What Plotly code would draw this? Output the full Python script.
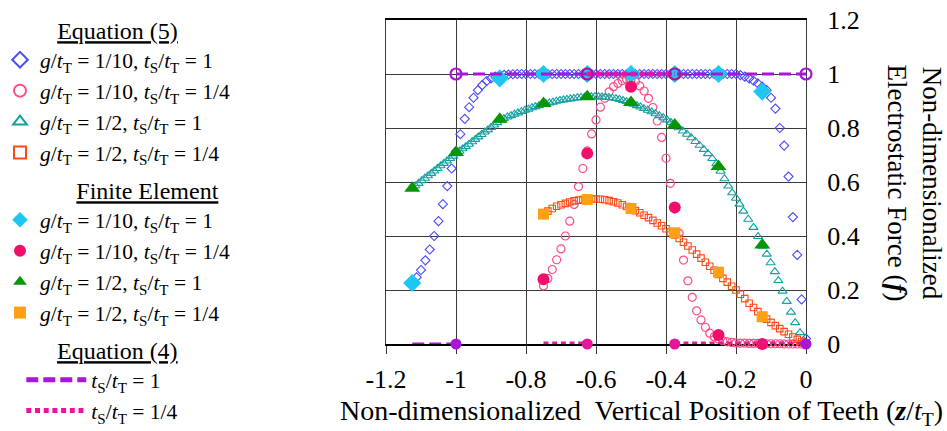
import plotly.graph_objects as go

FONT = "Liberation Serif"

# ---------------- data ----------------
# Equation (5): g/tT = 1/10, tS/tT = 1  (open diamonds)
Z_EQ5_G10_S1 = [-1.125, -1.1125, -1.1, -1.0875, -1.075, -1.0625, -1.05, -1.0375, -1.025, -1.0125,
                -1.0, -0.9875, -0.975, -0.9625, -0.95, -0.9375, -0.925, -0.9125, -0.9, -0.8875,
                -0.875, -0.8625, -0.85, -0.8375, -0.825, -0.8125, -0.8, -0.7875, -0.775, -0.7625,
                -0.75, -0.7375, -0.725, -0.7125, -0.7, -0.6875, -0.675, -0.6625, -0.65, -0.6375,
                -0.625, -0.6125, -0.6, -0.5875, -0.575, -0.5625, -0.55, -0.5375, -0.525, -0.5125,
                -0.5, -0.4875, -0.475, -0.4625, -0.45, -0.4375, -0.425, -0.4125, -0.4, -0.3875,
                -0.375, -0.3625, -0.35, -0.3375, -0.325, -0.3125, -0.3, -0.2875, -0.275, -0.2625,
                -0.25, -0.2375, -0.225, -0.2125, -0.2, -0.1875, -0.175, -0.1625, -0.15, -0.1375,
                -0.125, -0.1125, -0.1, -0.0875, -0.075, -0.0625, -0.05, -0.0375, -0.025, -0.0125,
                0.0]
F_EQ5_G10_S1 = [0.226, 0.247, 0.274, 0.310, 0.350, 0.400, 0.455, 0.518, 0.585, 0.650,
                0.714, 0.777, 0.834, 0.877, 0.912, 0.940, 0.959, 0.974, 0.984, 0.990,
                0.994, 0.997, 0.998, 0.999, 1.0, 1.0, 1.0, 1.0, 1.0, 1.0,
                1.0, 1.0, 1.0, 1.0, 1.0, 1.0, 1.0, 1.0, 1.0, 1.0,
                1.0, 1.0, 1.0, 1.0, 1.0, 1.0, 1.0, 1.0, 1.0, 1.0,
                1.0, 1.0, 1.0, 1.0, 1.0, 1.0, 1.0, 1.0, 1.0, 1.0,
                1.0, 1.0, 1.0, 1.0, 1.0, 1.0, 1.0, 1.0, 1.0, 1.0,
                1.0, 1.0, 1.0, 1.0, 1.0, 0.996, 0.990, 0.984, 0.975, 0.965,
                0.953, 0.940, 0.912, 0.872, 0.800, 0.735, 0.620, 0.470, 0.330, 0.165,
                0.020]

# Equation (5): g/tT = 1/10, tS/tT = 1/4  (open circles)
Z_EQ5_G10_S14 = [-0.75, -0.7375, -0.725, -0.7125, -0.7, -0.6875, -0.675, -0.6625, -0.65, -0.6375,
                 -0.625, -0.6125, -0.6, -0.5875, -0.575, -0.5625, -0.55, -0.5375, -0.525, -0.5125,
                 -0.5, -0.4875, -0.475, -0.4625, -0.45, -0.4375, -0.425, -0.4125, -0.4, -0.3875,
                 -0.375, -0.3625, -0.35, -0.3375, -0.325, -0.3125, -0.3, -0.2875, -0.275, -0.2625,
                 -0.25, -0.2375, -0.225, -0.2125, -0.2, -0.1875, -0.175, -0.1625, -0.15, -0.1375,
                 -0.125, -0.1125, -0.1, -0.0875, -0.075, -0.0625, -0.05, -0.0375, -0.025, -0.0125,
                 0.0]
F_EQ5_G10_S14 = [0.215, 0.243, 0.276, 0.312, 0.352, 0.400, 0.455, 0.517, 0.583, 0.650,
                 0.715, 0.778, 0.830, 0.877, 0.910, 0.934, 0.953, 0.965, 0.975, 0.980,
                 0.979, 0.972, 0.956, 0.937, 0.910, 0.876, 0.826, 0.765, 0.688, 0.595,
                 0.500, 0.410, 0.311, 0.234, 0.173, 0.123, 0.089, 0.062, 0.040, 0.027,
                 0.018, 0.012, 0.008, 0.006, 0.004, 0.003, 0.003, 0.002, 0.002, 0.002,
                 0.001, 0.001, 0.001, 0.001, 0.001, 0.0, 0.0, 0.0, 0.0, 0.0,
                 0.0]

# Equation (5): g/tT = 1/2, tS/tT = 1  (open triangles)
Z_EQ5_G2_S1 = [-1.125, -1.116, -1.107, -1.098, -1.089, -1.080, -1.071, -1.062, -1.053, -1.044,
               -1.035, -1.026, -1.017, -1.008, -0.999, -0.990, -0.981, -0.972, -0.963, -0.954,
               -0.945, -0.936, -0.927, -0.918, -0.909, -0.900, -0.891, -0.882, -0.873,
               -0.863, -0.853, -0.843, -0.833, -0.823, -0.813, -0.803, -0.793, -0.783, -0.773,
               -0.763, -0.753, -0.743, -0.733, -0.723, -0.713, -0.703, -0.693, -0.683, -0.673,
               -0.663, -0.653, -0.643, -0.633, -0.623, -0.613, -0.603, -0.593, -0.583, -0.573,
               -0.563, -0.553, -0.543, -0.533, -0.523, -0.513, -0.503, -0.493, -0.483, -0.473,
               -0.463,
               -0.452, -0.441, -0.430, -0.419, -0.408, -0.397, -0.386, -0.375, -0.364, -0.352,
               -0.340, -0.328, -0.316, -0.304, -0.292, -0.280, -0.268, -0.256, -0.244, -0.233,
               -0.222, -0.211, -0.200, -0.190, -0.179, -0.165, -0.150, -0.137, -0.124, -0.112,
               -0.101, -0.089, -0.079, -0.067, -0.055, -0.043, -0.031, -0.017, -0.004]
F_EQ5_G2_S1 = [0.577, 0.586, 0.595, 0.605, 0.614, 0.623, 0.632, 0.641, 0.650, 0.660,
               0.669, 0.678, 0.687, 0.696, 0.705, 0.714, 0.723, 0.731, 0.740, 0.749,
               0.758, 0.767, 0.776, 0.785, 0.793, 0.802, 0.811, 0.820, 0.829,
               0.835, 0.841, 0.846, 0.851, 0.856, 0.861, 0.866, 0.870, 0.875, 0.879,
               0.883, 0.887, 0.890, 0.893, 0.896, 0.899, 0.902, 0.904, 0.906, 0.908,
               0.910, 0.912, 0.913, 0.914, 0.915, 0.916, 0.916, 0.916, 0.915, 0.914,
               0.913, 0.911, 0.909, 0.906, 0.902, 0.898, 0.893, 0.888, 0.883, 0.878,
               0.872,
               0.866, 0.860, 0.853, 0.846, 0.838, 0.830, 0.821, 0.811, 0.801, 0.789,
               0.777, 0.764, 0.750, 0.736, 0.721, 0.705, 0.687, 0.668, 0.640, 0.612,
               0.585, 0.560, 0.540, 0.518, 0.492, 0.462, 0.432, 0.398, 0.362, 0.333,
               0.301, 0.268, 0.235, 0.196, 0.158, 0.118, 0.079, 0.042, 0.010]

# Equation (5): g/tT = 1/2, tS/tT = 1/4  (open squares)
Z_EQ5_G2_S14 = [-0.75, -0.7375, -0.725, -0.7125, -0.7, -0.6875, -0.675, -0.6625, -0.65, -0.6375,
                -0.625, -0.6125, -0.6, -0.5875, -0.575, -0.5625, -0.55, -0.5375, -0.525, -0.5125,
                -0.5, -0.4875, -0.475, -0.4625, -0.45, -0.4375, -0.425, -0.4125, -0.4, -0.3875,
                -0.375, -0.3625, -0.35, -0.3375, -0.325, -0.3125, -0.3, -0.2875, -0.275, -0.2625,
                -0.25, -0.2375, -0.225, -0.2125, -0.2, -0.1875, -0.175, -0.1625, -0.15, -0.1375,
                -0.125, -0.1125, -0.1, -0.0875, -0.075, -0.0625, -0.05, -0.0375, -0.025, -0.0125,
                0.0]
F_EQ5_G2_S14 = [0.481, 0.492, 0.502, 0.510, 0.516, 0.521, 0.526, 0.530, 0.533, 0.535,
                0.536, 0.537, 0.537, 0.536, 0.534, 0.531, 0.527, 0.522, 0.516, 0.509,
                0.502, 0.494, 0.486, 0.477, 0.468, 0.458, 0.448, 0.438, 0.427, 0.415,
                0.404, 0.391, 0.377, 0.363, 0.348, 0.333, 0.318, 0.303, 0.288, 0.273,
                0.258, 0.243, 0.229, 0.214, 0.200, 0.184, 0.168, 0.151, 0.135, 0.120,
                0.105, 0.092, 0.080, 0.068, 0.057, 0.046, 0.036, 0.026, 0.017, 0.009,
                0.003]

# Finite Element results
Z_FE_S1 = [-1.125, -0.875, -0.75, -0.625, -0.5, -0.375, -0.25, -0.125]
F_FE_G10_S1 = [0.226, 0.984, 1.0, 1.0, 1.0, 1.0, 1.0, 0.935]
Z_FE_G2_S1 = [-1.125, -1.0, -0.875, -0.75, -0.625, -0.5, -0.375, -0.25, -0.125]
F_FE_G2_S1 = [0.577, 0.709, 0.832, 0.891, 0.916, 0.894, 0.811, 0.657, 0.367]
Z_FE_S14 = [-0.75, -0.625, -0.5, -0.375, -0.25, -0.125]
F_FE_G10_S14 = [0.240, 0.706, 0.953, 0.506, 0.033, 0.0]
F_FE_G2_S14 = [0.481, 0.535, 0.502, 0.412, 0.266, 0.101]

# Equation (4): step functions
Z_EQ4_S1 = [-1.125, -1.0, None, -1.0, 0.0]
F_EQ4_S1 = [0.0, 0.0, None, 1.0, 1.0]
Z_EQ4_S1_CLOSED = [-1.0, 0.0]
F_EQ4_S1_CLOSED = [0.0, 0.0]
Z_EQ4_S1_OPEN = [-1.0, 0.0]
F_EQ4_S1_OPEN = [1.0, 1.0]

Z_EQ4_S14 = [-0.75, -0.625, None, -0.625, -0.375, None, -0.375, 0.0]
F_EQ4_S14 = [0.0, 0.0, None, 1.0, 1.0, None, 0.0, 0.0]
Z_EQ4_S14_CLOSED = [-0.625, -0.375]
F_EQ4_S14_CLOSED = [0.0, 0.0]
Z_EQ4_S14_OPEN = [-0.625, -0.375]
F_EQ4_S14_OPEN = [1.0, 1.0]

X_TICKS = [-1.2, -1.0, -0.8, -0.6, -0.4, -0.2, 0.0]
X_TICKTEXT = ["-1.2", "-1", "-0.8", "-0.6", "-0.4", "-0.2", "0"]
Y_TICKS = [0.0, 0.2, 0.4, 0.6, 0.8, 1.0, 1.2]
Y_TICKTEXT = ["0", "0.2", "0.4", "0.6", "0.8", "1", "1.2"]

# ---------------- figure ----------------
def lbl(g, s):
    return (f"<i>g</i>/<i>t</i><sub>T</sub> = {g}, "
            f"<i>t</i><sub>S</sub>/<i>t</i><sub>T</sub> = {s}")

C_BLUE = "#4b4bff"
C_PINK = "#ff4a85"
C_TEAL = "#17a0a0"
C_ORED = "#ff4a16"
C_CYAN = "#1ec6f2"
C_MAG = "#f0106c"
C_GREEN = "#079607"
C_ORANGE = "#ffa015"
C_PURPLE = "#a617d6"
C_DOT = "#e5169c"

fig = go.Figure()

# Equation (5)
fig.add_trace(go.Scatter(x=Z_EQ5_G10_S1, y=F_EQ5_G10_S1, mode="markers", name=lbl("1/10", "1"),
                         legend="legend",
                         marker=dict(symbol="diamond-open", size=7, color=C_BLUE, line=dict(width=1.1))))
fig.add_trace(go.Scatter(x=Z_EQ5_G10_S14, y=F_EQ5_G10_S14, mode="markers", name=lbl("1/10", "1/4"),
                         legend="legend",
                         marker=dict(symbol="circle-open", size=8, color=C_PINK, line=dict(width=1.2))))
fig.add_trace(go.Scatter(x=Z_EQ5_G2_S1, y=F_EQ5_G2_S1, mode="markers", name=lbl("1/2", "1"),
                         legend="legend",
                         marker=dict(symbol="triangle-up-open", size=8, color=C_TEAL, line=dict(width=1.1))))
fig.add_trace(go.Scatter(x=Z_EQ5_G2_S14, y=F_EQ5_G2_S14, mode="markers", name=lbl("1/2", "1/4"),
                         legend="legend",
                         marker=dict(symbol="square-open", size=6.5, color=C_ORED, line=dict(width=1.1))))

# Finite element
fig.add_trace(go.Scatter(x=Z_FE_S1, y=F_FE_G10_S1, mode="markers", name=lbl("1/10", "1"),
                         legend="legend2",
                         marker=dict(symbol="diamond", size=14, color=C_CYAN, line=dict(width=0))))
fig.add_trace(go.Scatter(x=Z_FE_S14, y=F_FE_G10_S14, mode="markers", name=lbl("1/10", "1/4"),
                         legend="legend2",
                         marker=dict(symbol="circle", size=12, color=C_MAG, line=dict(width=0))))
fig.add_trace(go.Scatter(x=Z_FE_G2_S1, y=F_FE_G2_S1, mode="markers", name=lbl("1/2", "1"),
                         legend="legend2",
                         marker=dict(symbol="triangle-up", size=14, color=C_GREEN, line=dict(width=0))))
fig.add_trace(go.Scatter(x=Z_FE_S14, y=F_FE_G2_S14, mode="markers", name=lbl("1/2", "1/4"),
                         legend="legend2",
                         marker=dict(symbol="square", size=11, color=C_ORANGE, line=dict(width=0))))

# Equation (4)
fig.add_trace(go.Scatter(x=Z_EQ4_S1, y=F_EQ4_S1, mode="lines",
                         name="<i>t</i><sub>S</sub>/<i>t</i><sub>T</sub> = 1", legend="legend3",
                         line=dict(color=C_PURPLE, width=3, dash="12px,5px")))
fig.add_trace(go.Scatter(x=Z_EQ4_S14, y=F_EQ4_S14, mode="lines",
                         name="<i>t</i><sub>S</sub>/<i>t</i><sub>T</sub> = 1/4", legend="legend3",
                         line=dict(color=C_DOT, width=5, dash="5px,3.7px")))
fig.add_trace(go.Scatter(x=Z_EQ4_S14_CLOSED, y=F_EQ4_S14_CLOSED, mode="markers", showlegend=False,
                         marker=dict(symbol="circle", size=11, color=C_DOT)))
fig.add_trace(go.Scatter(x=Z_EQ4_S14_OPEN, y=F_EQ4_S14_OPEN, mode="markers", showlegend=False,
                         marker=dict(symbol="circle-open", size=11, color="#b0129f", line=dict(width=2.2))))
fig.add_trace(go.Scatter(x=Z_EQ4_S1_CLOSED, y=F_EQ4_S1_CLOSED, mode="markers", showlegend=False,
                         marker=dict(symbol="circle", size=11, color=C_PURPLE)))
fig.add_trace(go.Scatter(x=Z_EQ4_S1_OPEN, y=F_EQ4_S1_OPEN, mode="markers", showlegend=False,
                         marker=dict(symbol="circle-open", size=11, color=C_PURPLE, line=dict(width=2.2))))

fig.update_traces(cliponaxis=False, hoverinfo="skip")

NB = "\u00a0"

def legend_cfg(x, y, title, itemwidth=30):
    return dict(
        xref="container", yref="container", xanchor="left", yanchor="top", x=x, y=y,
        font=dict(family=FONT, size=21.5, color="black"),
        itemsizing="constant", bgcolor="rgba(0,0,0,0)", borderwidth=0,
        tracegroupgap=0, itemwidth=itemwidth,
        title=dict(text=title, side="top center", font=dict(family=FONT, size=24, color="black")),
    )

fig.update_layout(
    width=947, height=431,
    margin=dict(l=386, r=141, t=20, b=87, autoexpand=False),
    paper_bgcolor="white", plot_bgcolor="white",
    font=dict(family=FONT, size=26, color="black"),
    legend=legend_cfg(0.0, 0.9814, "<u>Equation (5)</u>"),
    legend2=legend_cfg(0.0, 0.6100, NB * 10 + "<u>Finite Element</u>"),
    legend3=legend_cfg(0.0225, 0.2390, NB * 5 + "<u>Equation (4)</u>", itemwidth=60),
    xaxis=dict(range=[-1.2, 0.0], tickvals=X_TICKS, ticktext=X_TICKTEXT,
               showgrid=True, gridcolor="#3a3a3a", gridwidth=1.2,
               showline=True, linecolor="black", linewidth=1.5, mirror=True,
               ticks="outside", ticklen=8, tickcolor="#3a3a3a", tickwidth=1.2,
               ticklabelstandoff=3,
               zeroline=False, layer="below traces",
               tickfont=dict(family=FONT, size=26, color="black")),
    yaxis=dict(range=[0.0, 1.2], tickvals=Y_TICKS, ticktext=Y_TICKTEXT, side="right",
               showgrid=True, gridcolor="#3a3a3a", gridwidth=1.2,
               showline=True, linecolor="#3a3a3a", linewidth=1.2, mirror=True,
               ticks="", ticklabelstandoff=15,
               zeroline=False, layer="below traces",
               tickfont=dict(family=FONT, size=26, color="black")),
    annotations=[
        dict(text="Non-dimensionalized\u00a0 Vertical Position of Teeth (<b><i>z</i></b>/<i>t</i><sub>T</sub>)",
             xref="paper", yref="paper", x=0.6095, y=-0.21, xanchor="center", yanchor="middle",
             showarrow=False, font=dict(family=FONT, size=28, color="black")),
        dict(text="Non-dimensionalized<br>Electrostatic Force (<b><i>f</i></b>)",
             xref="paper", yref="paper", x=1.258, y=0.497, xanchor="center", yanchor="middle",
             textangle=90, showarrow=False, font=dict(family=FONT, size=27, color="black")),
    ],
)

fig.write_html("out.html",
               config={"displayModeBar": False},
               post_script="document.body.style.margin='0px';document.body.style.overflow='hidden';")
